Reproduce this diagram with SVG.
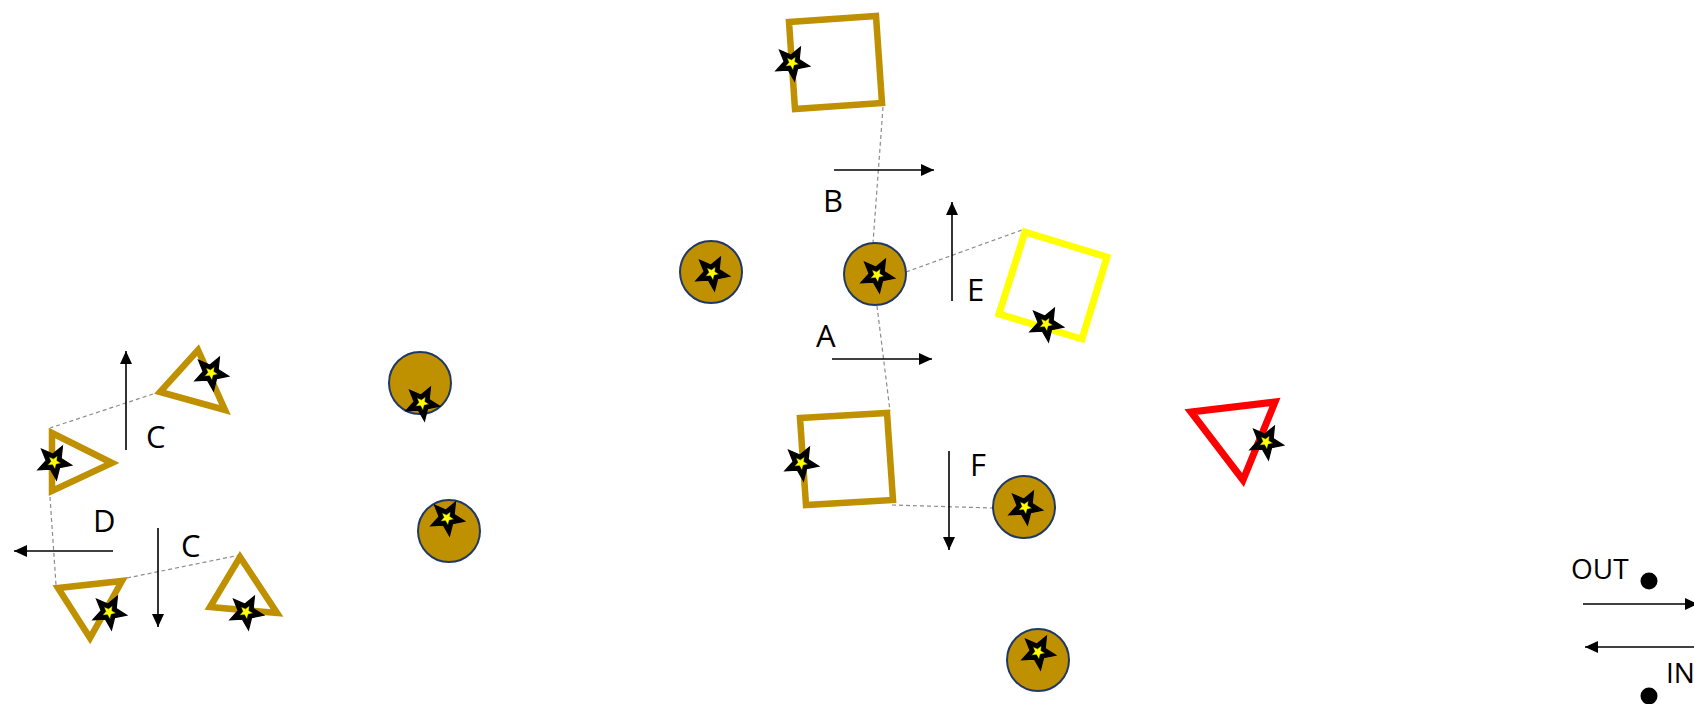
<svg xmlns="http://www.w3.org/2000/svg" xmlns:xlink="http://www.w3.org/1999/xlink" width="1694" height="704" viewBox="0 0 1694 704">
<style>
.gold{fill:none;stroke:#BF9000;stroke-width:6.5;stroke-linejoin:miter}
.yel{fill:none;stroke:#FFFF00;stroke-width:7;stroke-linejoin:miter}
.red{fill:none;stroke:#FF0000;stroke-width:7;stroke-linejoin:miter}
.disc{fill:#BF9000;stroke:#203864;stroke-width:2}
.dash{stroke:#8C8C8C;stroke-width:1.2;stroke-dasharray:4 3;fill:none}
.arr{stroke:#000;stroke-width:1.6;fill:none;marker-end:url(#ah)}
.lbl{font-family:"Open Sans","Liberation Sans",sans-serif;font-size:31px;fill:#000}
.sm{font-family:"Open Sans","Liberation Sans",sans-serif;font-size:28px;fill:#000}
</style>
<defs>
<marker id="ah" markerUnits="userSpaceOnUse" markerWidth="14" markerHeight="13" refX="13" refY="6" orient="auto">
<path d="M0,0 L13,6 L0,12 z" fill="#000"/>
</marker>
<g id="star">
<g transform="rotate(28)">
<polygon points="0,-18 4.7,-6.47 17.12,-5.56 7.61,2.47 10.58,14.56 0,8 -10.58,14.56 -7.61,2.47 -17.12,-5.56 -4.7,-6.47" fill="#000" stroke="#000" stroke-width="1.2" stroke-linejoin="miter"/>
<polygon points="0,-18 4.7,-6.47 17.12,-5.56 7.61,2.47 10.58,14.56 0,8 -10.58,14.56 -7.61,2.47 -17.12,-5.56 -4.7,-6.47" transform="scale(0.4)" fill="#FFFF00" stroke="#000" stroke-width="1"/>
</g>
</g>
</defs>
<rect width="1694" height="704" fill="#fff"/>

<g id="connectors">
<line class="dash" x1="883" y1="107" x2="873" y2="243"/>
<line class="dash" x1="877" y1="306" x2="890" y2="411"/>
<line class="dash" x1="906" y1="272" x2="1022" y2="230"/>
<line class="dash" x1="892" y1="505" x2="993" y2="508"/>
<line class="dash" x1="153" y1="394" x2="50" y2="428"/>
<line class="dash" x1="50" y1="497" x2="56" y2="585"/>
<line class="dash" x1="127" y1="578" x2="240" y2="555"/>
<line class="arr" x1="834" y1="170" x2="934" y2="170"/>
<line class="arr" x1="832" y1="359" x2="932" y2="359"/>
<line class="arr" x1="952" y1="301" x2="952" y2="202"/>
<line class="arr" x1="949" y1="451" x2="949" y2="550"/>
<line class="arr" x1="126" y1="450" x2="126" y2="351"/>
<line class="arr" x1="158" y1="528" x2="158" y2="627"/>
<line class="arr" x1="113" y1="551" x2="14" y2="551"/>
<line class="arr" x1="1583" y1="604" x2="1698" y2="604"/>
<line class="arr" x1="1710" y1="647" x2="1585" y2="647"/>
</g>

<g id="sq-top">
<polygon class="gold" points="789,22 876,16 882,103 795,109"/>
<use xlink:href="#star" href="#star" transform="translate(792,63)"/>
</g>
<g id="sq-yellow">
<polygon class="yel" points="1025,232 1107,257 1082,339 999,314"/>
<use xlink:href="#star" href="#star" transform="translate(1046,324)"/>
</g>
<g id="sq-bottom">
<polygon class="gold" points="800,418 887,413 893,500 806,505"/>
<use xlink:href="#star" href="#star" transform="translate(801,463)"/>
</g>
<g id="tri-red">
<polygon class="red" points="1191,412 1275,402 1243,480"/>
<use xlink:href="#star" href="#star" transform="translate(1266,442)"/>
</g>

<g id="circle1"><circle class="disc" cx="711" cy="272" r="31"/><use xlink:href="#star" href="#star" transform="translate(712,273)"/></g>
<g id="circle2"><circle class="disc" cx="875" cy="274" r="31"/><use xlink:href="#star" href="#star" transform="translate(877,275)"/></g>
<g id="circle3"><circle class="disc" cx="420" cy="383" r="31"/><use xlink:href="#star" href="#star" transform="translate(422,403)"/></g>
<g id="circle4"><circle class="disc" cx="449" cy="531" r="31"/><use xlink:href="#star" href="#star" transform="translate(447,518)"/></g>
<g id="circle5"><circle class="disc" cx="1024" cy="507" r="31"/><use xlink:href="#star" href="#star" transform="translate(1025,507)"/></g>
<g id="circle6"><circle class="disc" cx="1038" cy="660" r="31"/><use xlink:href="#star" href="#star" transform="translate(1038,652)"/></g>

<g id="tri1">
<polygon class="gold" points="198,350 225,410 160,392"/>
<use xlink:href="#star" href="#star" transform="translate(211,373)"/>
</g>
<g id="tri2">
<polygon class="gold" points="52,433 112,463 52,491"/>
<use xlink:href="#star" href="#star" transform="translate(54,462)"/>
</g>
<g id="tri3">
<polygon class="gold" points="58,588 122,581 90,638"/>
<use xlink:href="#star" href="#star" transform="translate(109,612)"/>
</g>
<g id="tri4">
<polygon class="gold" points="240,557 277,613 210,607"/>
<use xlink:href="#star" href="#star" transform="translate(246,612)"/>
</g>

<g id="labels">
<text class="lbl" x="823" y="212">B</text>
<text class="lbl" x="816" y="347">A</text>
<text class="lbl" x="967" y="301">E</text>
<text class="lbl" x="970" y="476">F</text>
<text class="lbl" x="146" y="448">C</text>
<text class="lbl" x="181" y="557">C</text>
<text class="lbl" x="93" y="532">D</text>
</g>
<g id="out">
<text class="sm" x="1571" y="579">OUT</text>
<circle cx="1649" cy="581" r="8.5" fill="#000"/>
</g>
<g id="in">
<text class="sm" x="1666" y="683">IN</text>
<circle cx="1649" cy="696" r="8.5" fill="#000"/>
</g>
</svg>
